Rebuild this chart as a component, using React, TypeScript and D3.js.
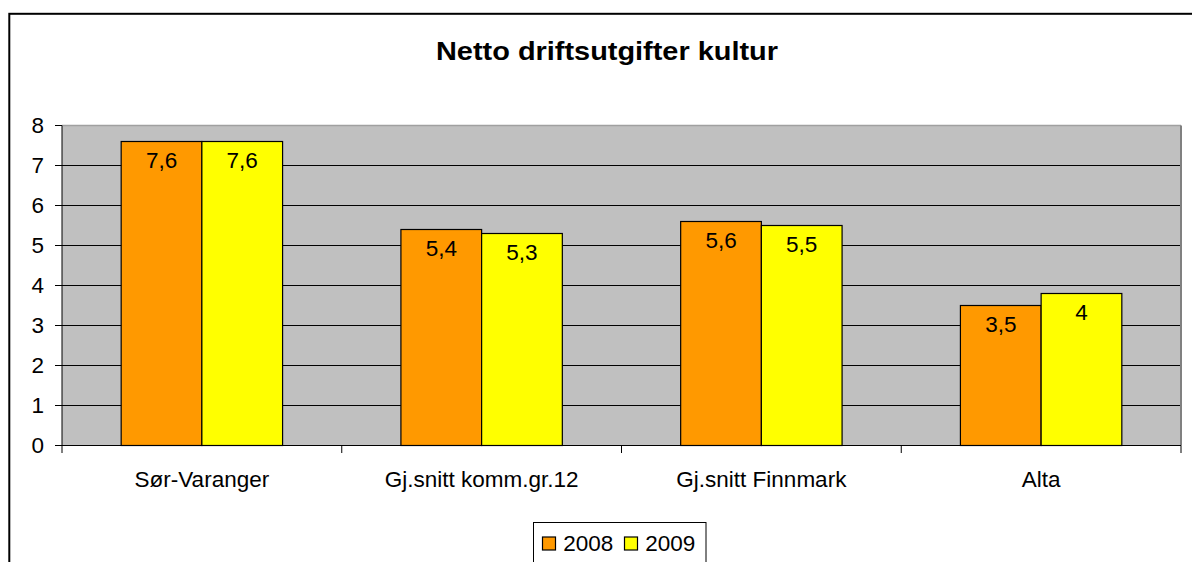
import React from "react";
import * as d3 from "d3";

const title = "Netto driftsutgifter kultur";
const categories = ["Sør-Varanger", "Gj.snitt komm.gr.12", "Gj.snitt Finnmark", "Alta"];
const seriesNames = ["2008", "2009"];
const values2008 = [7.6, 5.4, 5.6, 3.5];
const values2009 = [7.6, 5.3, 5.5, 3.8];
const labels2008 = ["7,6", "5,4", "5,6", "3,5"];
const labels2009 = ["7,6", "5,3", "5,5", "4"];
const yTicks = [0, 1, 2, 3, 4, 5, 6, 7, 8];
const colors = ["#FF9900", "#FFFF00"];

const FONT = "'Liberation Sans', Arial, sans-serif";

export default function App() {
  const W = 1192, H = 562;
  const plot = { left: 62, right: 1181, top: 125.5, bottom: 445.5 };
  const y = d3.scaleLinear().domain([0, 8]).range([plot.bottom, plot.top]);
  const x0 = d3
    .scaleBand<string>()
    .domain(categories)
    .range([plot.left, plot.right])
    .paddingInner(0.423)
    .paddingOuter(0.2115);
  const x1 = d3.scaleBand<string>().domain(seriesNames).range([0, x0.bandwidth()]);
  const series = [
    { name: seriesNames[0], values: values2008, labels: labels2008, color: colors[0] },
    { name: seriesNames[1], values: values2009, labels: labels2009, color: colors[1] },
  ];
  const step = x0.step();
  const boundaries = d3.range(categories.length + 1).map((i) => plot.left + i * step);
  const FS = 22.5;

  return (
    <svg
      width={W}
      height={H}
      style={{ position: "absolute", left: 0, top: 0, fontFamily: FONT }}
    >
      <rect x={0} y={0} width={W} height={H} fill="#fff" />
      <rect x={9.3} y={13.8} width={1250} height={650} fill="#fff" stroke="#000" strokeWidth={2} />
      <text
        x={607}
        y={60}
        textAnchor="middle"
        fontSize={25.5}
        fontWeight="bold"
        textLength={342}
        lengthAdjust="spacingAndGlyphs"
      >
        {title}
      </text>

      {/* plot background */}
      <rect
        x={plot.left}
        y={plot.top}
        width={plot.right - plot.left}
        height={plot.bottom - plot.top}
        fill="#C0C0C0"
      />
      {/* gridlines */}
      {yTicks
        .filter((t) => t > 0 && t < 8)
        .map((t) => (
          <line key={t} x1={plot.left} x2={plot.right} y1={y(t)} y2={y(t)} stroke="#000" strokeWidth={1} />
        ))}
      <line x1={plot.left} x2={plot.right} y1={plot.top} y2={plot.top} stroke="#A0A0A0" strokeWidth={1.5} />
      <line x1={plot.right} x2={plot.right} y1={plot.top} y2={plot.bottom} stroke="#808080" strokeWidth={2} />

      {/* bars */}
      {series.map((s) =>
        categories.map((c, i) => {
          const bx = (x0(c) as number) + (x1(s.name) as number);
          const by = y(s.values[i]);
          return (
            <g key={s.name + c}>
              <rect
                x={bx}
                y={by}
                width={x1.bandwidth()}
                height={plot.bottom - by}
                fill={s.color}
                stroke="#000"
                strokeWidth={1.2}
              />
              <text x={bx + x1.bandwidth() / 2} y={by + 26.5} textAnchor="middle" fontSize={FS}>
                {s.labels[i]}
              </text>
            </g>
          );
        })
      )}

      {/* axes */}
      <line x1={plot.left} x2={plot.left} y1={plot.top} y2={plot.bottom} stroke="#000" strokeWidth={1} />
      <line x1={plot.left} x2={plot.right} y1={plot.bottom} y2={plot.bottom} stroke="#000" strokeWidth={1} />
      {yTicks.map((t) => (
        <g key={"yt" + t}>
          <line x1={55} x2={plot.left} y1={y(t)} y2={y(t)} stroke="#000" strokeWidth={1} />
          <text x={44} y={y(t)} textAnchor="end" dominantBaseline="central" fontSize={FS}>
            {t}
          </text>
        </g>
      ))}
      {boundaries.map((bx, i) => (
        <line key={"xt" + i} x1={bx} x2={bx} y1={plot.bottom} y2={plot.bottom + 7.5} stroke="#000" strokeWidth={1} />
      ))}
      {categories.map((c) => (
        <text
          key={"cl" + c}
          x={(x0(c) as number) + x0.bandwidth() / 2}
          y={487}
          textAnchor="middle"
          fontSize={FS}
        >
          {c}
        </text>
      ))}

      {/* legend */}
      <rect x={533.5} y={522.5} width={172.5} height={60} fill="#fff" stroke="#000" strokeWidth={1} />
      {series.map((s, i) => {
        const lx = 542.5 + i * 82;
        return (
          <g key={"lg" + s.name}>
            <rect x={lx} y={537} width={13} height={13} fill={s.color} stroke="#000" strokeWidth={1.2} />
            <text x={lx + 20.8} y={550.5} fontSize={FS}>
              {s.name}
            </text>
          </g>
        );
      })}
    </svg>
  );
}
